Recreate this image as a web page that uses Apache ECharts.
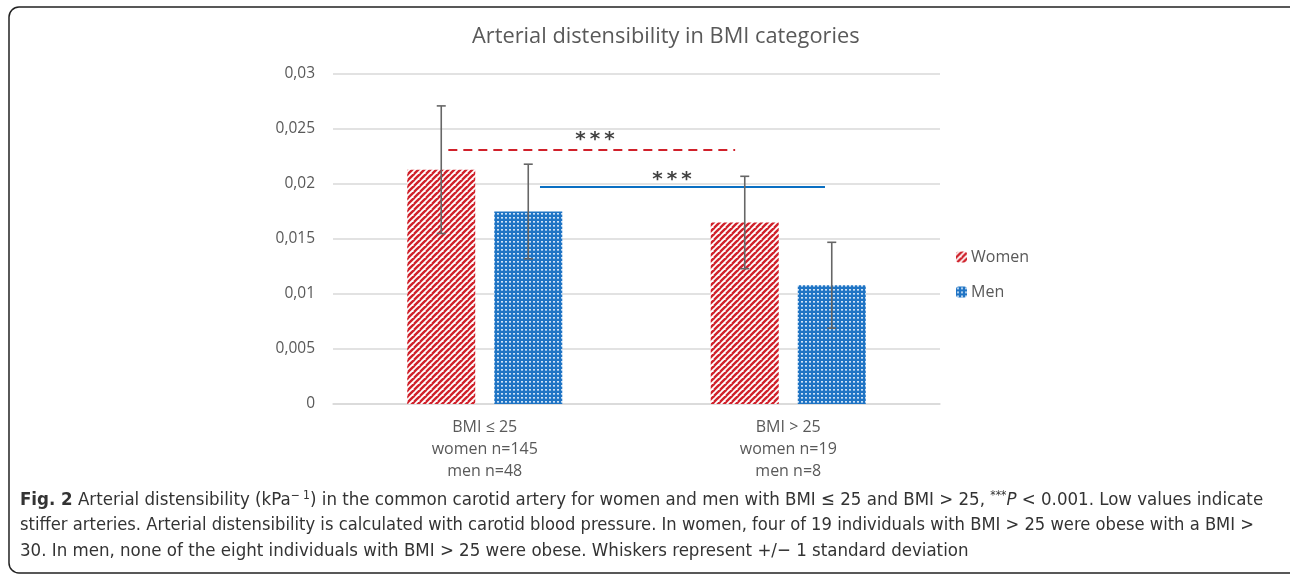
<!DOCTYPE html>
<html>
<head>
<meta charset="utf-8">
<script src="https://cdn.jsdelivr.net/npm/echarts@6/dist/echarts.min.js"></script>
<style>
html, body { margin: 0; padding: 0; background: #fff; }
#chart { width: 1290px; height: 578px; }
</style>
</head>
<body>
<div id="chart"></div>
<script>
// data
var categories = ['BMI ≤ 25\nwomen n=145\nmen n=48', 'BMI > 25\nwomen n=19\nmen n=8'];
var womenMean = [0.0213, 0.0165];
var womenSd = [0.0058, 0.0042];
var menMean = [0.0175, 0.0108];
var menSd = [0.0043, 0.0039];
// significance brackets (x in category units: 0..2 across the plot)
var sigWomen = [[0.38, 0.0231], [1.325, 0.0231]];
var sigMen = [[0.682, 0.01973], [1.621, 0.01973]];
var sigWomenLabel = [[0.863, 0.0231]];
var sigMenLabel = [[1.117, 0.01973]];

var grey = '#595959';
var capFont = '"Liberation Sans Narrow", "DejaVu Sans Condensed"';

// fill patterns
function stripePattern() {
    var c = document.createElement('canvas');
    c.width = 6; c.height = 6;
    var g = c.getContext('2d');
    g.fillStyle = '#ffffff';
    g.fillRect(0, 0, 6, 6);
    g.strokeStyle = '#d0202a';
    g.lineWidth = 2.4;
    for (var k = -6; k <= 12; k += 6) {
        g.beginPath();
        g.moveTo(k - 6, 6);
        g.lineTo(k + 6, -6);
        g.stroke();
    }
    return c;
}
function dotPattern() {
    var c = document.createElement('canvas');
    c.width = 4; c.height = 4;
    var g = c.getContext('2d');
    g.fillStyle = '#1f74c4';
    g.fillRect(0, 0, 4, 4);
    g.fillStyle = '#cfe2f5';
    g.fillRect(1, 1, 2, 1);
    g.fillStyle = '#8fbbe6';
    g.fillRect(1, 2, 2, 1);
    return c;
}
var redFill = { image: stripePattern(), repeat: 'repeat' };
var blueFill = { image: dotPattern(), repeat: 'repeat' };

function errorData(mean, sd) {
    return mean.map(function (m, i) { return [i, m - sd[i], m + sd[i]]; });
}
function errorSeries(mean, sd, offset) {
    return {
        type: 'custom',
        z: 5,
        data: errorData(mean, sd),
        renderItem: function (params, api) {
            var lo = api.coord([api.value(0), api.value(1)]);
            var hi = api.coord([api.value(0), api.value(2)]);
            var x = lo[0] + offset;
            var st = { stroke: '#666666', lineWidth: 1.6 };
            return {
                type: 'group',
                children: [
                    { type: 'line', shape: { x1: x, y1: hi[1], x2: x, y2: lo[1] }, style: st },
                    { type: 'line', shape: { x1: x - 4.5, y1: hi[1], x2: x + 4.5, y2: hi[1] }, style: st },
                    { type: 'line', shape: { x1: x - 4.5, y1: lo[1], x2: x + 4.5, y2: lo[1] }, style: st }
                ]
            };
        },
        encode: { x: 0, y: [1, 2] },
        silent: true
    };
}

var starLabel = {
    show: true, position: 'top', formatter: '*\u2009*\u2009*',
    fontFamily: 'DejaVu Sans', fontSize: 20, fontWeight: 'bold', color: '#111'
};

var chart = echarts.init(document.getElementById('chart'));
chart.setOption({
    animation: false,
    title: {
        text: 'Arterial distensibility in BMI categories',
        left: 467,
        top: 21,
        textStyle: { fontFamily: 'Open Sans', fontSize: 21.8, fontWeight: 'normal', color: grey }
    },
    legend: {
        orient: 'vertical',
        left: 951,
        top: 244,
        itemWidth: 11,
        itemHeight: 11,
        itemGap: 19,
        data: ['Women', 'Men'],
        textStyle: { fontFamily: 'Open Sans', fontSize: 16, color: grey, padding: [0, 0, 0, -1] }
    },
    grid: { left: 333, right: 350, top: 74, bottom: 174, containLabel: false },
    xAxis: [
        {
            type: 'category',
            data: categories,
            axisTick: { show: false },
            axisLine: { lineStyle: { color: '#d9d9d9', width: 1.5 } },
            axisLabel: { fontFamily: 'Open Sans', fontSize: 16, color: grey, lineHeight: 22, margin: 12 }
        },
        { type: 'value', min: 0, max: 2, show: false }
    ],
    yAxis: {
        type: 'value',
        min: 0,
        max: 0.03,
        interval: 0.005,
        axisLine: { show: false },
        axisTick: { show: false },
        splitLine: { lineStyle: { color: '#d9d9d9', width: 1.5 } },
        axisLabel: {
            fontFamily: 'Open Sans', fontSize: 15.5, color: grey, margin: 18,
            formatter: function (v) { return String(+v.toFixed(3)).replace('.', ','); }
        }
    },
    series: [
        { name: 'Women', type: 'bar', data: womenMean, barWidth: 68, barGap: '28%', itemStyle: { color: redFill } },
        { name: 'Men', type: 'bar', data: menMean, barWidth: 68, itemStyle: { color: blueFill } },
        errorSeries(womenMean, womenSd, -43.5),
        errorSeries(menMean, menSd, 43.5),
        {
            type: 'line', xAxisIndex: 1, data: sigWomen, symbol: 'none', silent: true, z: 4,
            lineStyle: { color: '#d0202a', width: 2, type: [9, 6] }
        },
        {
            type: 'line', xAxisIndex: 1, data: sigMen, symbol: 'none', silent: true, z: 4,
            lineStyle: { color: '#0a6fc2', width: 2 }
        },
        {
            type: 'scatter', xAxisIndex: 1, data: sigWomenLabel, symbolSize: 0, silent: true,
            label: Object.assign({ distance: 0 }, starLabel)
        },
        {
            type: 'scatter', xAxisIndex: 1, data: sigMenLabel, symbolSize: 0, silent: true,
            label: Object.assign({ distance: -3 }, starLabel)
        }
    ],
    graphic: [
        {
            type: 'rect',
            shape: { x: 9, y: 7, width: 1300, height: 566, r: 10 },
            style: { fill: 'none', stroke: '#222', lineWidth: 1.5 },
            silent: true
        },
        {
            type: 'text', left: 20, top: 490,
            style: {
                text: '{b|Fig. 2} Arterial distensibility (kPa{sup|− 1}) in the common carotid artery for women and men with BMI ≤ 25 and BMI > 25, {sup|***}{i|P} < 0.001. Low values indicate',
                font: '18.5px ' + capFont,
                fill: '#333',
                rich: {
                    b: { font: 'bold 18.5px ' + capFont, fill: '#333' },
                    i: { font: 'italic 18.5px ' + capFont, fill: '#333' },
                    sup: { font: '12px ' + capFont, fill: '#333', verticalAlign: 'top', padding: [0, 0, 8, 0] }
                }
            }
        },
        {
            type: 'text', left: 20, top: 516,
            style: {
                text: 'stiffer arteries. Arterial distensibility is calculated with carotid blood pressure. In women, four of 19 individuals with BMI > 25 were obese with a BMI >',
                font: '18.2px ' + capFont, fill: '#333'
            }
        },
        {
            type: 'text', left: 20, top: 542,
            style: {
                text: '30. In men, none of the eight individuals with BMI > 25 were obese. Whiskers represent +/− 1 standard deviation',
                font: '18.5px ' + capFont, fill: '#333'
            }
        }
    ]
});
</script>
</body>
</html>
